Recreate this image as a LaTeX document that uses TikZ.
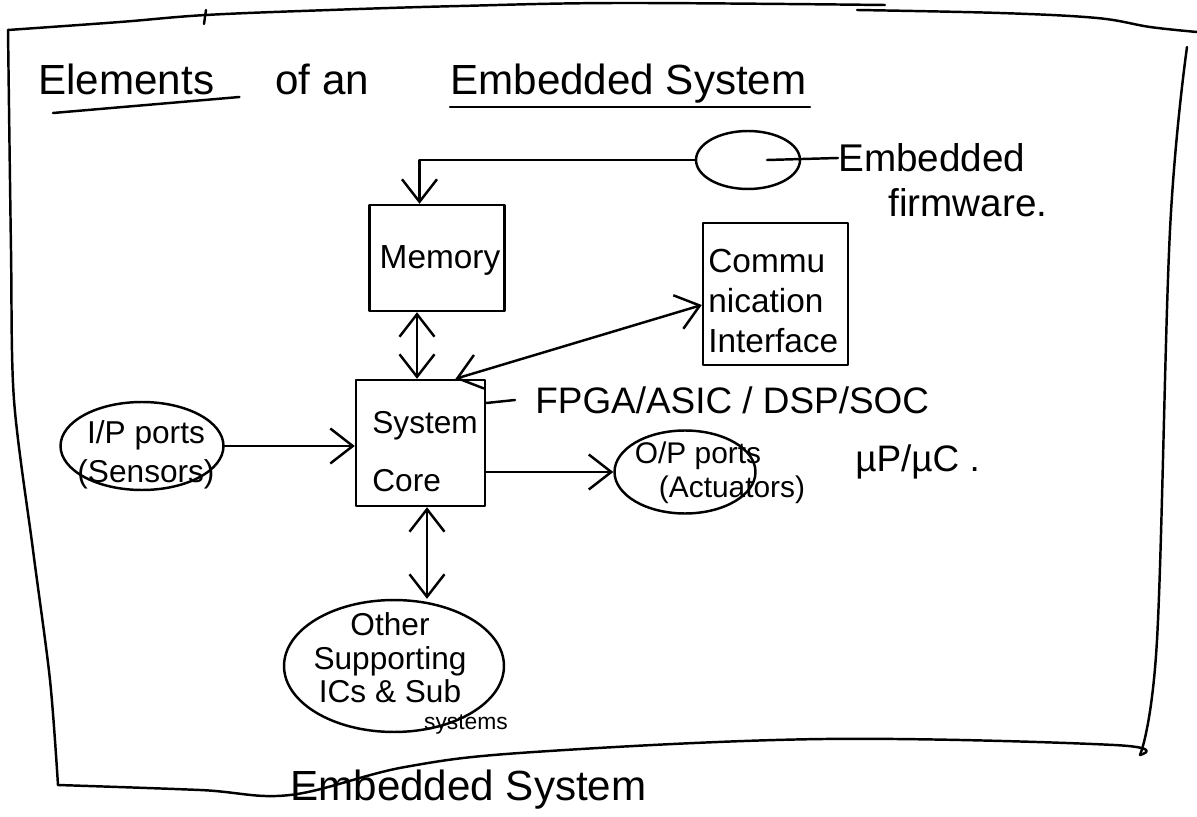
\documentclass[tikz,border=0pt]{standalone}
\usepackage{fontspec}
\setmainfont{Liberation Sans}
\usetikzlibrary{arrows.meta,shapes.geometric,calc}

\newcommand{\fs}[1]{\fontsize{#1}{#1}\selectfont}

\begin{document}
\begin{tikzpicture}[x=0.02cm, y=-0.02cm,
  ink/.style={line width=1.4pt, line cap=round, line join=round},
  tip/.tip={Straight Barb[length=4.5mm, width=7mm]},
  arr/.style={ink, -tip},
  darr/.style={ink, tip-tip},
  box/.style={draw, ink, rectangle, inner sep=0pt},
  oval/.style={draw, ink, ellipse, inner sep=0pt},
  lbl/.style={inner sep=0pt, align=left},
]
\useasboundingbox (0,0) rectangle (1197,817);

% outer frame of the embedded system
\draw[ink] plot[smooth, tension=0.6] coordinates
  {(1140,755) (1114,745) (824,739) (534,752) (405,767) (290,795) (200,790) (58,785)};
\draw[ink] plot[smooth, tension=0.5] coordinates
  {(58,785) (50,680) (33,550) (14,400) (11,250) (8,30)};
\draw[ink] plot[smooth, tension=0.6] coordinates
  {(8,30) (120,22) (206,15) (330,10) (460,6) (620,3) (885,5)};
\draw[ink] (206,10) -- (204,24);
\draw[ink] plot[smooth, tension=0.6] coordinates
  {(857,10) (1000,13) (1097,18) (1150,27) (1197,32)};
\draw[ink] plot[smooth, tension=0.6] coordinates
  {(1187,47) (1170,230) (1157,640) (1140,755)};

% heading
\node[lbl, anchor=base west, font=\fs{24}] (t1) at (38,95) {Elements};
\node[lbl, anchor=base west, font=\fs{24}] (t2) at (275,95) {of an};
\node[lbl, anchor=base west, font=\fs{24}] (t3) at (450,95) {Embedded System};
\draw[ink] ($(t1.base west)+(15,18)$) -- ($(t1.base east)+(25,2)$);
\draw[ink] ($(t3.base west)+(0,12)$) -- ($(t3.base east)+(3,12)$);

% blocks
\node[box, minimum width=2.7cm, minimum height=2.12cm] (mem) at (437,258) {};
\node[lbl, font=\fs{19}] (memtext) at (440,260) {Memory};

\node[box, minimum width=2.9cm, minimum height=2.84cm] (comm) at (775.5,294) {};
\node[lbl, anchor=west, font=\fontsize{19}{23}\selectfont] (commtext) at (708,301)
  {Commu\\nication\\Interface};

\node[box, minimum width=2.58cm, minimum height=2.52cm] (core) at (420.5,443) {};
\node[lbl, anchor=west, font=\fontsize{18}{33}\selectfont] (coretext) at (372,452)
  {System\\Core};

\node[oval, minimum width=2.08cm, minimum height=1.16cm] (fw) at (748,160) {};
\node[lbl, anchor=west, font=\fs{22}] (fwtext) at (838,158) {Embedded};
\node[lbl, anchor=west, font=\fs{22}] (fwtext2) at (888,203) {firmware.};

\node[oval, minimum width=3.26cm, minimum height=1.76cm] (ip) at (142,446) {};
\node[lbl, align=center, font=\fontsize{18}{22}\selectfont] (iptext) at (146,455)
  {I/P ports\\(Sensors)};

\node[oval, minimum width=2.82cm, minimum height=1.66cm] (op) at (685,472) {};
\node[lbl, font=\fs{17}] (optext) at (698,456) {O/P ports};
\node[lbl, font=\fs{17}] (optext2) at (732,490) {(Actuators)};

\node[oval, minimum width=4.4cm, minimum height=2.64cm] (other) at (394,666) {};
\node[lbl, align=center, font=\fontsize{18}{19}\selectfont] (othertext) at (390,658)
  {Other\\Supporting\\ICs \& Sub};
\node[lbl, font=\fs{13}] (othertext2) at (466,724) {systems};

\node[lbl, anchor=west, font=\fs{21}] (fpga) at (535,400) {FPGA/ASIC / DSP/SOC};
\node[lbl, anchor=west, font=\fs{21}] (mpmc) at (855,462) {µP/µC .};

\node[lbl, anchor=base west, font=\fs{24}] (es) at (290,800) {Embedded System};

% connectors
\draw[arr] (fw.west) -| ([xshift=-0.35cm]mem.north);
\draw[ink] ([xshift=0.38cm]fw.center) -- (fwtext.west);
\draw[darr] ([xshift=-0.4cm]mem.south) -- ([xshift=-0.4cm]mem.south |- core.north);
\draw[darr] ([xshift=0.7cm]core.north) -- ([yshift=-0.22cm]comm.west);
\draw[arr] (ip.east) -- (ip.east -| core.west);
\draw[arr] (op.west -| core.east) -- (op.west);
\draw[darr] ([xshift=0.13cm]core.south) -- ([xshift=0.13cm]core.south |- other.north);
\draw[ink] ([yshift=0.8cm]core.east) -- ([xshift=-0.4cm]fpga.west);

\end{tikzpicture}
\end{document}
